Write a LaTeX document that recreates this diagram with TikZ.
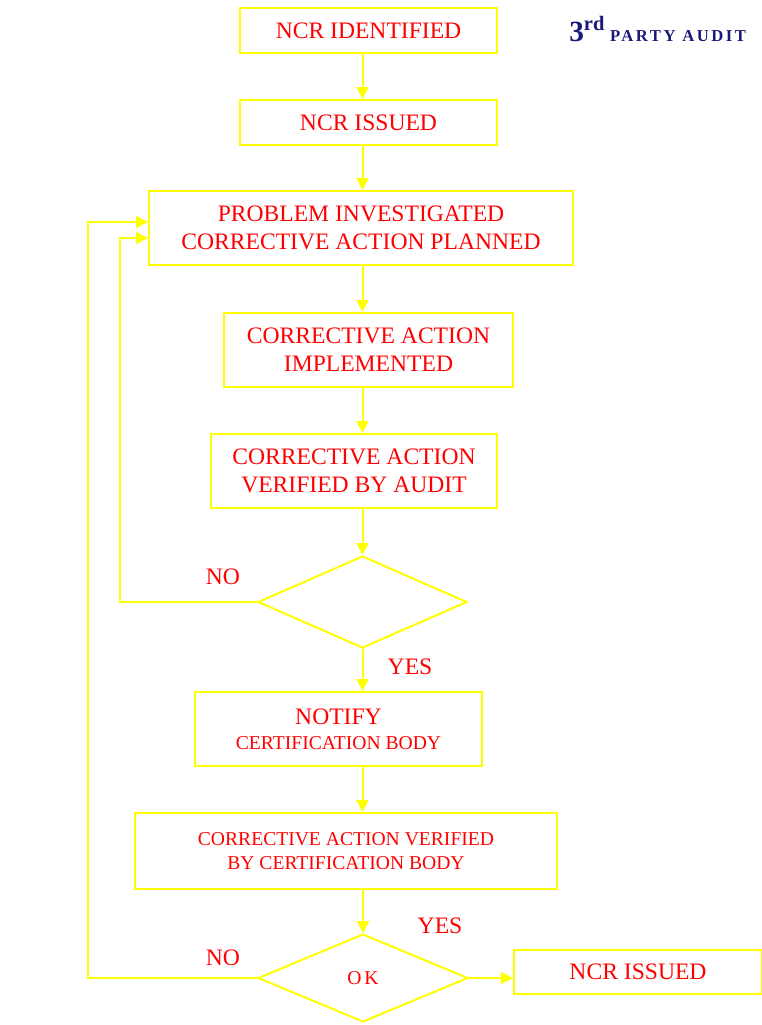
\documentclass[tikz,border=0pt]{standalone}
\usepackage{fontspec}
\setmainfont{Liberation Serif}
\newfontfamily\auditfont[LetterSpace=15]{Liberation Serif}
\usepackage{xcolor}
\usetikzlibrary{shapes.geometric,arrows.meta,calc}
\newdimen\unitpx \unitpx=0.75pt
\definecolor{ncryellow}{RGB}{255,255,0}
\definecolor{ncrred}{RGB}{255,0,0}
\definecolor{ncrnavy}{RGB}{25,25,120}
\tikzset{
  fc_big/.style = {font=\fontsize{17.7}{20.8}\selectfont},
  fc_small/.style = {font=\fontsize{14.7}{18.6}\selectfont},
  fc_box/.style = {rectangle, draw=ncryellow, line width=1.5pt, text=ncrred,
    align=center, inner sep=0pt, fc_big},% process step
  fc_dec/.style = {diamond, draw=ncryellow, line width=1.5pt, text=ncrred,
    inner sep=0pt, fc_small},% decision
  fc_lbl/.style = {text=ncrred, inner sep=0pt, fc_big},% yes / no
  fc_arr/.style = {draw=ncryellow, line width=1.5pt,
    -{Triangle[length=9pt,width=9pt]}}
}

\begin{document}
\begin{tikzpicture}[x=0.75pt, y=-0.75pt]
\useasboundingbox (0,0) rectangle (762,1025);

% main column
\node[fc_box, minimum width=257\unitpx, minimum height=45\unitpx] (ident) at (368.5,30.5) {NCR IDENTIFIED};
\node[fc_box, minimum width=257\unitpx, minimum height=45\unitpx] (issued) at (368.5,122.5) {NCR ISSUED};
\node[fc_box, minimum width=424\unitpx, minimum height=74\unitpx] (plan) at (361,228) {PROBLEM INVESTIGATED\\CORRECTIVE ACTION PLANNED};
\node[fc_box, minimum width=289\unitpx, minimum height=74\unitpx] (impl) at (368.5,350) {CORRECTIVE ACTION\\IMPLEMENTED};
\node[fc_box, minimum width=286\unitpx, minimum height=74\unitpx] (verif) at (354,471) {CORRECTIVE ACTION\\VERIFIED BY AUDIT};
\node[fc_dec, minimum width=209\unitpx, minimum height=92\unitpx] (chk) at (362.5,602) {};
\node[fc_box, minimum width=287\unitpx, minimum height=74\unitpx] (notify) at (338.5,729) {NOTIFY\\[-2pt]{\fontsize{14.7}{18}\selectfont CERTIFICATION BODY}};
\node[fc_box, fc_small, minimum width=422\unitpx, minimum height=76\unitpx] (cbody) at (346,851) {CORRECTIVE ACTION VERIFIED\\BY CERTIFICATION BODY};
\node[fc_dec, minimum width=210\unitpx, minimum height=88\unitpx] (ok) at (363,978) {\auditfont OK};
\node[fc_box, minimum width=248\unitpx, minimum height=44\unitpx] (close) at (638,972) {NCR ISSUED};

% title
\node[text=ncrnavy, inner sep=0pt, anchor=base west] (title) at (569,41)
  {\bfseries\fontsize{22}{22}\selectfont 3\textsuperscript{rd}\,{\auditfont\bfseries\fontsize{12.5}{12.5}\selectfont PARTY AUDIT}};

% labels
\node[fc_lbl] (no1) at (223,577) {NO};
\node[fc_lbl] (yes1) at (410,667) {YES};
\node[fc_lbl] (no2) at (223,958) {NO};
\node[fc_lbl] (yes2) at (440,926) {YES};

% connectors
\draw[fc_arr] (ident.south -| chk.north) -- (issued.north -| chk.north);
\draw[fc_arr] (issued.south -| chk.north) -- (plan.north -| chk.north);
\draw[fc_arr] (plan.south -| chk.north) -- (impl.north -| chk.north);
\draw[fc_arr] (impl.south -| chk.north) -- (verif.north -| chk.north);
\draw[fc_arr] (verif.south -| chk.north) -- (chk.north);
\draw[fc_arr] (chk.south) -- (notify.north -| chk.south);
\draw[fc_arr] (notify.south -| chk.south) -- (cbody.north -| chk.south);
\draw[fc_arr] (cbody.south -| ok.north) -- (ok.north);
\draw[fc_arr] (ok.east) -- (ok.east -| close.west);

% loops back
\coordinate (loopa) at (120,238);
\coordinate (loopb) at (88,222);
\draw[fc_arr] (chk.west) -| (loopa) -- (loopa -| plan.west);
\draw[fc_arr] (ok.west) -| (loopb) -- (loopb -| plan.west);
\end{tikzpicture}
\end{document}
